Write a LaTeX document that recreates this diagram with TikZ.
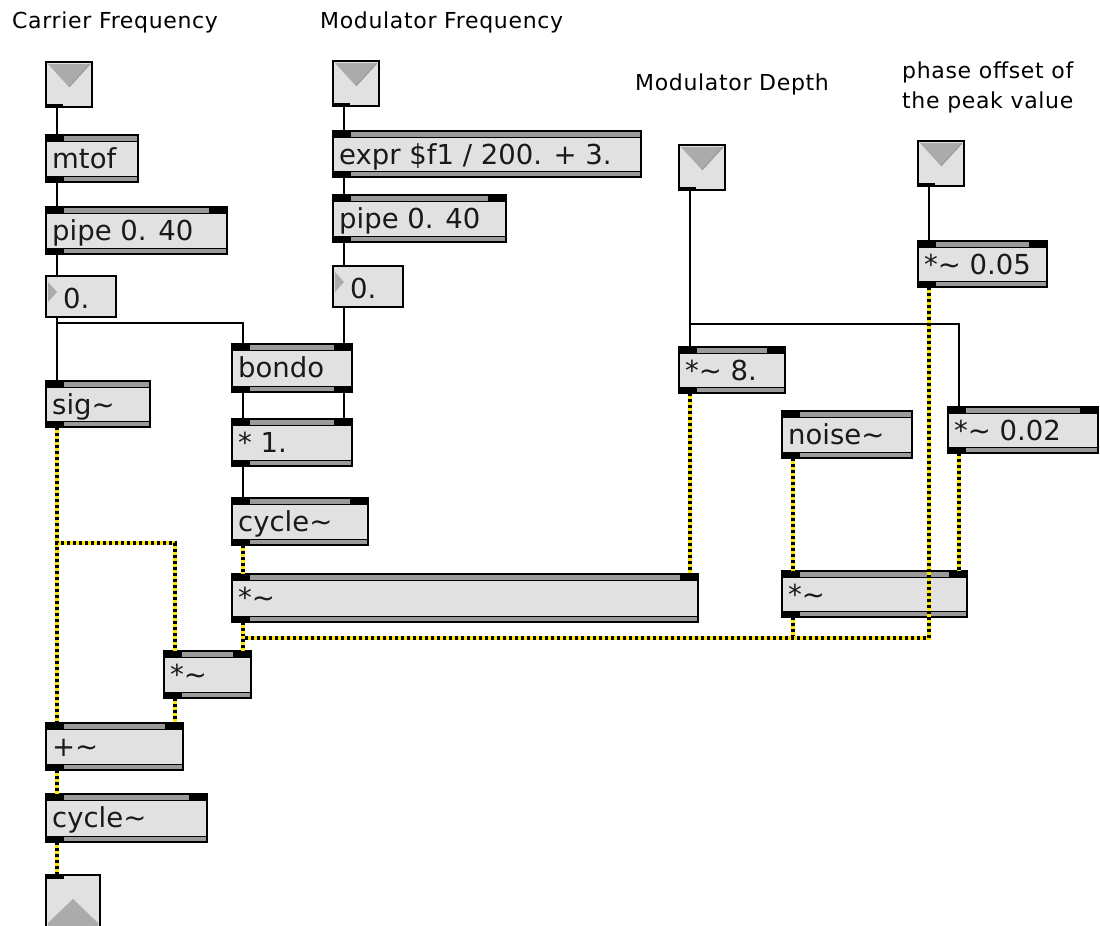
\documentclass[tikz,border=0pt]{standalone}
\usepackage{fontspec}
\setmainfont{DejaVu Sans}
\newfontfamily\cmtfont[LetterSpace=3]{DejaVu Sans}
\usetikzlibrary{calc}
\definecolor{boxgrey}{HTML}{E1E1E1}
\definecolor{stripgrey}{HTML}{9A9A9A}
\definecolor{trigrey}{HTML}{ABABAB}
\definecolor{sigyellow}{HTML}{FFE600}
\tikzset{
  objbox/.style={draw=black, fill=boxgrey, line width=1.5pt, inner sep=0pt, outer sep=0pt, anchor=north west, rectangle},
  objtxt/.style={anchor=base west, inner sep=0pt, font=\fontsize{27.5}{32}\selectfont, text=black!90},
  cmt/.style={anchor=base west, inner sep=0pt, font=\cmtfont\fontsize{22}{26}\selectfont, text=black},
  ctl/.style={draw=black, line width=1.5pt},
  sigbase/.style={draw=sigyellow, line width=4.5pt},
  sigdash/.style={draw=black, line width=3.4pt, dash pattern=on 3pt off 3pt},
}
% object box: name, x1, y1, x2, y2, text, inlets, outlets
\newcommand\pdobj[8]{%
  \node[objbox, minimum width={(#4-#2)*1pt}, minimum height={(#5-#3)*1pt}] (#1) at (#2,#3) {};
  \filldraw[fill=stripgrey, draw=black, line width=0.8pt] (#1.north west) rectangle ($(#1.north east)+(0,6)$);
  \filldraw[fill=stripgrey, draw=black, line width=0.8pt] ($(#1.south west)+(0,-6)$) rectangle (#1.south east);
  \fill[black] (#1.north west) rectangle ++(18,6);
  \ifnum#7>1 \fill[black] ($(#1.north east)+(-18,0)$) rectangle ++(18,6);\fi
  \fill[black] ($(#1.south west)+(0,-6)$) rectangle ++(18,6);
  \ifnum#8>1 \fill[black] ($(#1.south east)+(-18,-6)$) rectangle ++(18,6);\fi
  \draw[line width=1.5pt] (#1.north west) rectangle (#1.south east);
  \node[objtxt] (#1-t) at ($(#1.north west)+(6,33)$) {#6};
  \coordinate (#1-i0) at ($(#1.north west)+(11,0)$);
  \coordinate (#1-i1) at ($(#1.north east)+(-8,0)$);
  \coordinate (#1-o0) at ($(#1.south west)+(11,0)$);
  \coordinate (#1-o1) at ($(#1.south east)+(-8,0)$);
}
% number box: name, x1, y1, x2, y2, text
\newcommand\pdnum[6]{%
  \node[objbox, line width=1.3pt, minimum width={(#4-#2)*1pt}, minimum height={(#5-#3)*1pt}] (#1) at (#2,#3) {};
  \fill[trigrey] ($(#1.north west)+(2,6)$) -- ($(#1.north west)+(11,16)$) -- ($(#1.north west)+(2,26)$) -- cycle;
  \node[objtxt] (#1-t) at ($(#1.north west)+(17,32)$) {#6};
  \coordinate (#1-i0) at ($(#1.north west)+(11,0)$);
  \coordinate (#1-o0) at ($(#1.south west)+(11,0)$);
}
% inlet: name, x1, y1
\newcommand\pdin[3]{%
  \node[objbox, minimum width=46pt, minimum height=45pt] (#1) at (#2,#3) {};
  \fill[trigrey] ($(#1.north west)+(2,2)$) -- ($(#1.north east)+(-2,2)$) -- ($(#1.north)+(0,25)$) -- cycle;
  \draw[black!40, line width=1pt] ($(#1.north)+(0,25)$) -- ($(#1.north east)+(-2,2)$);
  \fill[black] ($(#1.south west)+(0,-3)$) rectangle ++(17,3);
  \coordinate (#1-o0) at ($(#1.south west)+(11,0)$);
}
\newcommand\sigpath[1]{\draw[sigbase] #1; \draw[sigdash] #1;}
\begin{document}
\begin{tikzpicture}[x=1pt,y=-1pt]
\clip (0,0) rectangle (1100,926);
\fill[white] (0,0) rectangle (1100,926);

% comments
\node[cmt] (c1) at (12,28) {Carrier Frequency};
\node[cmt] (c2) at (320,28) {Modulator Frequency};
\node[cmt] (c3) at (635,90) {Modulator Depth};
\node[cmt] (c4) at (902,78) {phase offset of};
\node[cmt] (c5) at (902,108) {the peak value};

% inlets
\pdin{inC}{46}{62}
\pdin{inM}{333}{61}
\pdin{inD}{679}{145}
\pdin{inP}{918}{141}

% carrier chain
\pdobj{mtof}{46}{135}{138}{182}{mtof}{1}{1}
\pdobj{pipeL}{46}{207}{227}{254}{pipe 0. 40}{2}{1}
\pdnum{numL}{46}{276}{116}{317}{0.}
\pdobj{sig}{46}{381}{150}{427}{sig\textasciitilde}{1}{1}

% modulator chain
\pdobj{expr}{333}{131}{641}{177}{expr \$f1 / 200. + 3.}{1}{1}
\pdobj{pipeM}{333}{195}{506}{242}{pipe 0. 40}{2}{1}
\pdnum{numM}{333}{266}{403}{307}{0.}
\pdobj{bondo}{232}{344}{352}{392}{bondo}{2}{2}
\pdobj{mulone}{232}{419}{352}{466}{* 1.}{2}{1}
\pdobj{cycM}{232}{498}{368}{545}{cycle\textasciitilde}{2}{1}
\pdobj{mulB}{232}{574}{698}{622}{*\textasciitilde}{2}{1}

% depth / phase
\pdobj{mul8}{679}{347}{785}{393}{*\textasciitilde{} 8.}{2}{1}
\pdobj{mul05}{918}{241}{1047}{287}{*\textasciitilde{} 0.05}{2}{1}
\pdobj{mul02}{948}{407}{1098}{453}{*\textasciitilde{} 0.02}{2}{1}
\pdobj{noise}{782}{411}{912}{458}{noise\textasciitilde}{1}{1}
\pdobj{mulN}{782}{571}{967}{617}{*\textasciitilde}{2}{1}

% output chain
\pdobj{mulS}{164}{651}{251}{698}{*\textasciitilde}{2}{1}
\pdobj{add}{46}{723}{183}{770}{+\textasciitilde}{2}{1}
\pdobj{cycC}{46}{794}{207}{842}{cycle\textasciitilde}{2}{1}

% outlet
\node[objbox, minimum width=54pt, minimum height=70pt] (out) at (46,875) {};
\fill[trigrey] ($(out.north west)+(2,48)$) -- ($(out.north west)+(27,24)$) -- ($(out.north west)+(52,48)$) -- ($(out.north west)+(52,68)$) -- ($(out.north west)+(2,68)$) -- cycle;
\fill[black] (out.north west) rectangle ++(18,4);
\coordinate (out-i0) at ($(out.north west)+(11,0)$);

% control connections
\draw[ctl] (inC-o0) -- (mtof-i0);
\draw[ctl] (mtof-o0) -- (pipeL-i0);
\draw[ctl] (pipeL-o0) -- (numL-i0);
\draw[ctl] (numL-o0) -- (sig-i0);
\draw[ctl] (numL-o0) -- ++(0,6) -| (bondo-i0);
\draw[ctl] (inM-o0) -- (expr-i0);
\draw[ctl] (expr-o0) -- (pipeM-i0);
\draw[ctl] (pipeM-o0) -- (numM-i0);
\draw[ctl] (numM-o0) -- (bondo-i1);
\draw[ctl] (bondo-o0) -- (mulone-i0);
\draw[ctl] (bondo-o1) -- (mulone-i1);
\draw[ctl] (mulone-o0) -- (cycM-i0);
\draw[ctl] (inD-o0) -- (mul8-i0);
\draw[ctl] ($(mul8-i0)+(0,-23)$) -| (mul02-i0);
\draw[ctl] (inP-o0) -- (mul05-i0);

% signal connections
\sigpath{(cycM-o0) -- (mulB-i0)}
\sigpath{(mul8-o0) -- (mulB-i1)}
\sigpath{(mulB-o0) -- (mulS-i1)}
\sigpath{(noise-o0) -- (mulN-i0)}
\sigpath{(mul02-o0) -- (mulN-i1)}
\sigpath{(mulN-o0) -- ++(0,21) -| (mulS-i1)}
\sigpath{(mul05-o0) |- ($(mulS-i1)+(0,-13)$) -- (mulS-i1)}
\sigpath{(sig-o0) -- (add-i0)}
\sigpath{(sig-o0) -- ++(0,116) -| (mulS-i0)}
\sigpath{(mulS-o0) -- (add-i1)}
\sigpath{(add-o0) -- (cycC-i0)}
\sigpath{(cycC-o0) -- (out-i0)}
\end{tikzpicture}
\end{document}
